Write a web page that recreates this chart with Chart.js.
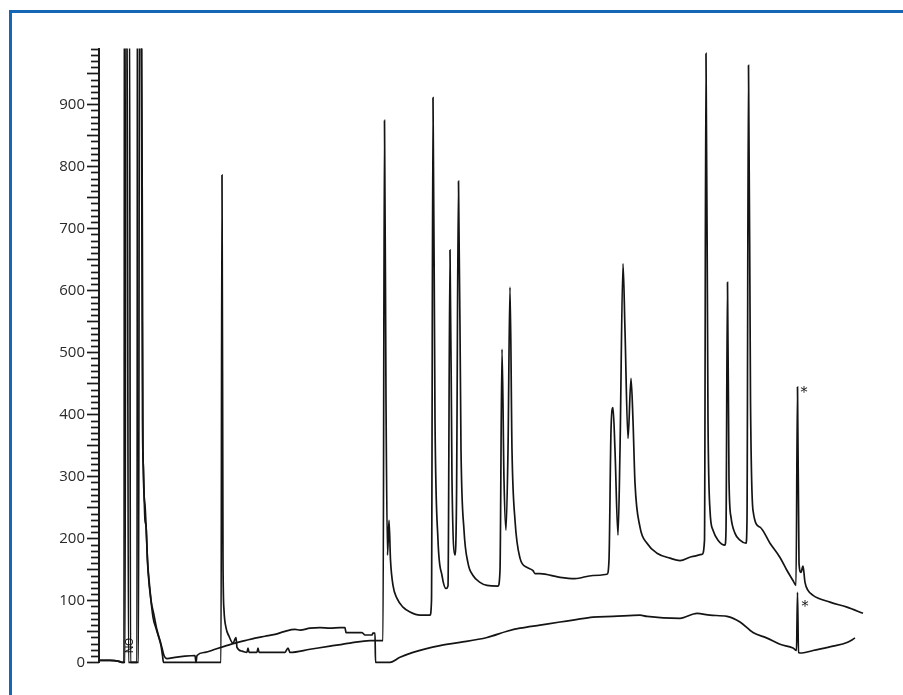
<!DOCTYPE html>
<html>
<head>
<meta charset="utf-8">
<script src="https://cdn.jsdelivr.net/npm/chart.js@4.4.1/dist/chart.umd.min.js"></script>
<style>
  html, body { margin: 0; padding: 0; background: #ffffff; }
  #wrap { position: relative; width: 903px; height: 695px; overflow: hidden; }
  #frame { position: absolute; left: 9px; top: 10px; width: 2000px; height: 2000px;
           border-left: 3px solid #1666b6; border-top: 3px solid #1666b6; box-sizing: border-box; }
  canvas { position: absolute; left: 0; top: 0; }
</style>
</head>
<body>
<div id="wrap">
  <div id="frame"></div>
  <canvas id="c" width="903" height="695"></canvas>
</div>
<script>
// Retention time (min) and detector signal for the sample trace (with peaks)
const timeA = [0,0.55,0.95,1.15,1.25,1.275,1.4,1.475,1.9,1.925,2.1,2.175,2.225,2.3,2.35,2.425,2.55,2.7,2.85,3.0,3.1,3.175,3.225,
  6.1,6.15,6.2,6.25,6.35,6.5,6.7,6.85,6.9,7.15,7.4,7.45,7.5,7.9,7.95,8.0,8.55,9.3,9.45,9.55,10.55,11.55,12.55,13.55,14.2,
  14.275,14.35,14.425,14.5,14.575,14.7,14.9,15.2,15.55,16.05,16.55,16.625,16.7,16.8,16.95,17.15,17.35,17.45,17.55,17.65,17.8,
  17.875,17.975,18.1,18.25,18.45,18.7,19.05,19.4,19.95,20.05,20.15,20.25,20.35,20.45,20.55,20.65,20.8,21.05,21.4,21.7,21.8,
  22.05,23.05,23.8,24.7,25.4,25.5,25.6,25.7,25.8,25.95,26.05,26.2,26.3,26.45,26.6,26.7,26.8,27.05,27.4,27.9,28.55,29.05,29.7,
  30.15,30.275,30.35,30.45,30.55,30.7,30.95,31.3,31.35,31.425,31.5,31.6,31.8,32.05,32.35,32.4,32.475,32.575,32.7,33.05,33.55,
  34.05,34.4,34.7,34.85,34.925,35.0,35.1,35.2,35.3,35.45,35.7,36.55,37.4,38.2];
const signalA = [3,3,2,0,0,1100,1100,0,0,1100,1100,390,310,229,221,165,116,73,55,39,27,11,0,
  0,786,165,84,56,42,31,40,24,18,16,23,16,16,23,16,16,16,23,16,21,26,31,35,35,
  874,423,173,229,165,124,103,89,81,76,76,100,911,390,197,140,119,123,665,294,173,
  261,776,342,213,160,140,129,124,123,148,505,294,213,342,605,342,229,168,153,148,143,
  143,137,135,140,142,165,374,411,342,205,342,643,535,361,458,390,289,218,192,176,168,164,171,
  174,197,982,390,245,213,197,189,213,613,294,234,208,197,192,229,963,423,245,218,192,
  169,148,132,124,444,160,145,155,129,116,108,97,89,79];

// Retention time (min) and detector signal for the lower (blank) trace
const timeB = [0,0.55,0.95,1.15,1.3,1.35,1.525,1.575,1.975,2.025,2.125,2.2,2.3,2.45,2.6,2.75,2.9,3.05,3.15,3.25,3.4,
  3.8,4.3,4.8,4.85,4.9,5.3,5.8,6.3,6.8,7.3,7.8,8.3,8.8,9.3,9.8,10.05,10.55,11.05,11.55,12.05,12.3,12.35,13.15,13.3,13.65,
  13.7,13.8,13.825,14.55,15.05,15.7,17.05,18.05,19.4,20.4,21.05,22.05,23.05,23.7,24.7,25.7,27.05,27.4,29.05,29.9,30.55,
  31.4,32.05,32.7,33.4,34.05,34.7,34.875,34.925,34.975,35.15,35.7,36.7,37.4,37.8];
const signalB = [3,3,2,0,0,1100,1100,0,0,1100,1100,342,253,148,100,76,52,35,23,11,6,
  8,10,11,0,11,16,21,26,31,35,39,42,45,50,53,52,55,56,55,56,56,48,48,44,44,
  47,47,0,0,8,16,27,32,40,50,55,60,65,68,73,74,76,74,71,79,76,
  74,65,48,39,29,23,19,113,16,15,19,26,32,39];

// Text marks placed at data positions
const noteTimes = [35.25, 35.3];
const noteSignals = [433, 89];
const noteTexts = ['*', '*'];
const stampTime = [1.58];
const stampSignal = [27];
const stampText = ['NO'];

const yMin = 0, yMax = 990, xMin = 0, xMax = 39;

function pts(t, v) { return t.map((x, i) => ({ x: x, y: v[i] })); }

const tickPlugin = {
  id: 'ticksAndNotes',
  afterDraw(chart) {
    const ctx = chart.ctx;
    const ys = chart.scales.y, xs = chart.scales.x;
    const left = chart.chartArea.left;
    ctx.save();
    ctx.strokeStyle = '#1a1a1a';
    ctx.lineWidth = 1.7;
    for (let v = yMin; v <= yMax; v += 10) {
      const y = Math.round(ys.getPixelForValue(v)) + 0.5;
      const len = (v % 50 === 0) ? 12 : 8;
      ctx.beginPath();
      ctx.moveTo(left - len, y);
      ctx.lineTo(left, y);
      ctx.stroke();
    }
    ctx.fillStyle = '#111';
    ctx.font = '14px "DejaVu Serif", serif';
    ctx.textAlign = 'center';
    ctx.textBaseline = 'middle';
    for (let i = 0; i < noteTexts.length; i++) {
      ctx.fillText(noteTexts[i], xs.getPixelForValue(noteTimes[i]), ys.getPixelForValue(noteSignals[i]));
    }
    ctx.font = '10px "Liberation Sans", sans-serif';
    for (let i = 0; i < stampText.length; i++) {
      ctx.save();
      ctx.translate(xs.getPixelForValue(stampTime[i]), ys.getPixelForValue(stampSignal[i]));
      ctx.rotate(-Math.PI / 2);
      ctx.fillText(stampText[i], 0, 0);
      ctx.restore();
    }
    ctx.restore();
  }
};

const lineStyle = {
  borderColor: '#141414', borderWidth: 1.7, pointRadius: 0,
  cubicInterpolationMode: 'monotone',
  clip: { left: 0, top: 0, right: 5, bottom: 3 }
};

new Chart(document.getElementById('c'), {
  type: 'line',
  data: {
    datasets: [
      Object.assign({ data: pts(timeA, signalA) }, lineStyle),
      Object.assign({ data: pts(timeB, signalB) }, lineStyle)
    ]
  },
  options: {
    responsive: false,
    animation: false,
    events: [],
    layout: { padding: { left: 0, top: 48.5, right: 24, bottom: 32.7 } },
    plugins: { legend: { display: false }, tooltip: { enabled: false }, title: { display: false } },
    scales: {
      x: { type: 'linear', min: xMin, max: xMax, display: false },
      y: {
        type: 'linear', min: yMin, max: yMax,
        afterFit(scale) { scale.width = 99; },
        border: { display: true, color: '#1a1a1a', width: 2 },
        grid: { display: false, drawTicks: true, tickLength: 12 },
        ticks: {
          stepSize: 10, autoSkip: false, padding: 2, color: '#2a2a2a',
          font: { family: '"Open Sans", sans-serif', size: 15 },
          callback: (v) => (v % 100 === 0 ? String(v) : '')
        }
      }
    }
  },
  plugins: [tickPlugin]
});
</script>
</body>
</html>
